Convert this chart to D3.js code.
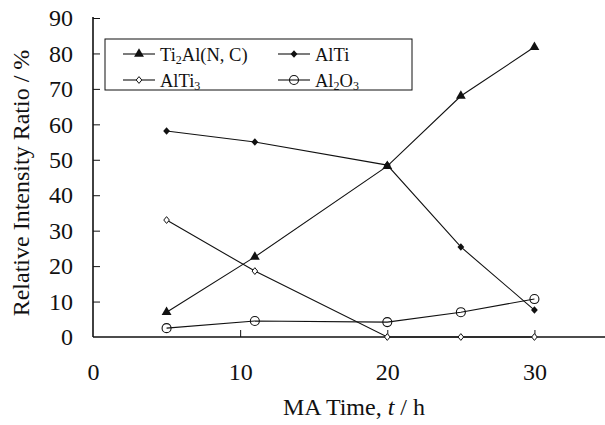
<!DOCTYPE html>
<html><head><meta charset="utf-8">
<script src="https://cdn.jsdelivr.net/npm/d3@7"></script>
<style>body{margin:0;background:#fff}svg{display:block}</style>
</head><body><svg id="c" width="605" height="425"></svg>
<script>
const times = [5, 11, 20, 25, 30];
const ti2alnc = [7, 22.6, 48.2, 68, 81.8];
const alti = [58.1, 55, 48.5, 25.4, 7.6];
const alti3 = [33, 18.6, 0, 0, 0];
const al2o3 = [2.5, 4.5, 4.2, 7, 10.7];
const xTicks = [0, 10, 20, 30];
const yTicks = [0, 10, 20, 30, 40, 50, 60, 70, 80, 90];

const FF = "Liberation Serif, serif";
const svg = d3.select("#c");
const x = d3.scaleLinear().domain([0, 35]).range([93, 608]);
const y = d3.scaleLinear().domain([0, 90]).range([337, 18]);

const yAxis = d3.axisLeft(y).tickValues(yTicks).tickSize(-7).tickPadding(20);
const gy = svg.append("g").attr("transform", "translate(93,0)").call(yAxis);
const xAxis = d3.axisBottom(x).tickValues(xTicks).tickSize(-7).tickPadding(26);
const gx = svg.append("g").attr("transform", "translate(0,337)").call(xAxis);
[gy, gx].forEach(g => {
  g.attr("font-family", null).attr("font-size", null);
  g.select(".domain").attr("stroke", "#111").attr("stroke-width", 1.6);
  g.selectAll(".tick line").attr("stroke", "#111").attr("stroke-width", 1);
  g.selectAll(".tick text").style("font-family", FF).style("font-size", "24px").attr("fill", "#111");
});
gx.select(".domain").attr("d", "M93,0H605");
gy.select(".domain").attr("d", "M0,337V17");
gx.selectAll(".tick").filter(d => d === 0).select("line").remove();
gy.selectAll(".tick").filter(d => d === 0).select("line").remove();

const xt = svg.append("text").attr("x", 354).attr("y", 415).attr("text-anchor", "middle")
  .style("font-family", FF).style("font-size", "24px").attr("fill", "#111");
xt.append("tspan").text("MA Time, ");
xt.append("tspan").style("font-style", "italic").text("t");
xt.append("tspan").text(" / h");
svg.append("text").attr("transform", "translate(29,183) rotate(-90)").attr("text-anchor", "middle")
  .style("font-family", FF).style("font-size", "24px").attr("fill", "#111").text("Relative Intensity Ratio / %");

const series = [
  {vals: ti2alnc, m: "tri"},
  {vals: alti, m: "dia"},
  {vals: alti3, m: "odia"},
  {vals: al2o3, m: "circ"}
];
const line = d3.line().x((d, i) => x(times[i])).y(d => y(d));

function marker(g, type, cx, cy) {
  if (type === "tri") g.append("path").attr("d", d3.symbol(d3.symbolTriangle, 42)()).attr("transform", `translate(${cx},${cy})`).attr("fill", "#111");
  else if (type === "dia") g.append("path").attr("d", `M0,-3.8L3.4,0L0,3.8L-3.4,0Z`).attr("transform", `translate(${cx},${cy})`).attr("fill", "#111");
  else if (type === "odia") g.append("path").attr("d", `M0,-3.4L2.8,0L0,3.4L-2.8,0Z`).attr("transform", `translate(${cx},${cy})`).attr("fill", "#fff").attr("stroke", "#111").attr("stroke-width", 1);
  else g.append("circle").attr("cx", cx).attr("cy", cy).attr("r", 4.5).attr("fill", "none").attr("stroke", "#111").attr("stroke-width", 1.1);
}

const plot = svg.append("g");
series.forEach(s => {
  plot.append("path").attr("d", line(s.vals)).attr("fill", "none").attr("stroke", "#111").attr("stroke-width", 1.1);
});
series.forEach(s => {
  s.vals.forEach((v, i) => marker(plot, s.m, x(times[i]), y(v)));
});

const lg = svg.append("g");
lg.append("rect").attr("x", 105).attr("y", 39).attr("width", 307).attr("height", 51).attr("fill", "#fff").attr("stroke", "#111").attr("stroke-width", 1);
const legendItems = [
  {m: "tri", lx: 123, ly: 54, parts: [["Ti", 0], ["2", 1], ["Al(N, C)", 0]]},
  {m: "dia", lx: 278, ly: 54, parts: [["AlTi", 0]]},
  {m: "odia", lx: 123, ly: 80, parts: [["AlTi", 0], ["3", 1]]},
  {m: "circ", lx: 278, ly: 80, parts: [["Al", 0], ["2", 1], ["O", 0], ["3", 1]]}
];
legendItems.forEach(it => {
  lg.append("line").attr("x1", it.lx).attr("x2", it.lx + 32).attr("y1", it.ly).attr("y2", it.ly).attr("stroke", "#111").attr("stroke-width", 1.1);
  marker(lg, it.m, it.lx + 16, it.ly);
  const t = lg.append("text").attr("x", it.lx + 37).attr("y", it.ly + 6.5)
    .style("font-family", FF).style("font-size", "18.5px").attr("fill", "#111");
  let prevSub = false;
  it.parts.forEach(p => {
    const ts = t.append("tspan").text(p[0]);
    if (p[1]) { ts.style("font-size", "12px").attr("dy", 3); prevSub = true; }
    else if (prevSub) { ts.attr("dy", -3); prevSub = false; }
  });
});
</script></body></html>
